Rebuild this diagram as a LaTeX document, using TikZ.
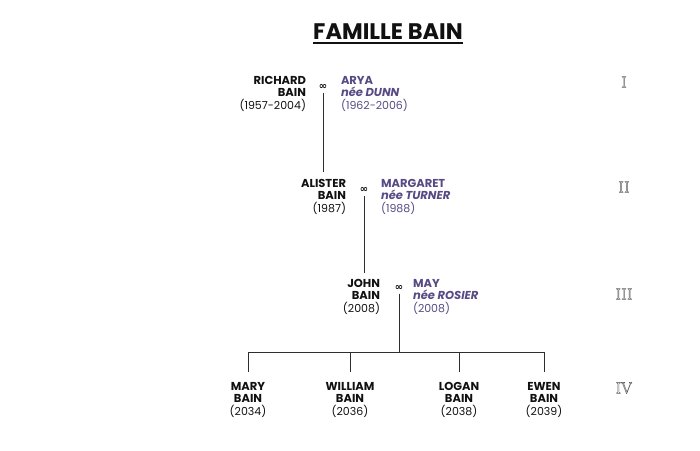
\documentclass[tikz,border=0pt]{standalone}
\usepackage{fontspec}
\setsansfont{Poppins}
\renewcommand{\familydefault}{\sfdefault}
\newfontfamily\ringfont{DejaVu Sans}
\usepackage{tikz}
\usetikzlibrary{positioning}
\definecolor{Ink}{HTML}{111111}
\definecolor{Plum}{HTML}{574A85}
\definecolor{Wire}{HTML}{2E2E2E}
\definecolor{Rule}{HTML}{5A5A5A}
\newcommand{\hollow}[1]{\special{pdf:literal direct 1 Tr 0.45 w}#1\special{pdf:literal direct 0 Tr}}
\newcommand{\nm}[1]{\textbf{\fontsize{11.5}{12.5}\selectfont #1}}

\begin{document}
\begin{tikzpicture}[x=1pt,y=-1pt,every node/.style={inner sep=0pt,outer sep=0pt},
  husband/.style={anchor=north east,align=right,text=Ink,font=\fontsize{11}{12.5}\selectfont},
  wife/.style={anchor=north west,align=left,text=Plum,font=\fontsize{11}{12.5}\selectfont},
  child/.style={anchor=north,align=center,text=Ink,font=\fontsize{11}{12.5}\selectfont},
  ring/.style={text=Ink,font=\ringfont\bfseries\fontsize{10}{10}\selectfont},
  gen/.style={text=Rule,font=\rmfamily\fontsize{16}{16}\selectfont},
  link/.style={draw=Wire,line width=0.8pt}]
  \useasboundingbox (0,0) rectangle (700,450);
  \node[font=\bfseries\fontsize{22.5}{22.5}\selectfont,text=Ink] (title) at (388,32) {FAMILLE BAIN};
  \draw[Ink,line width=1.8pt] ([yshift=-3pt]title.south west) -- ([yshift=-3pt]title.south east);

  \node[husband] (richard) at (306,76) {\nm{RICHARD}\\\nm{BAIN}\\(1957-2004)};
  \node[ring] (ring1) at (323,87) {∞};
  \node[wife] (arya) at (341,76) {\nm{ARYA}\\\nm{\itshape née DUNN}\\(1962-2006)};

  \node[husband] (alister) at (346,179) {\nm{ALISTER}\\\nm{BAIN}\\(1987)};
  \node[ring] (ring2) at (364,190) {∞};
  \node[wife] (margaret) at (381,179) {\nm{MARGARET}\\\nm{\itshape née TURNER}\\(1988)};

  \node[husband] (john) at (380,279) {\nm{JOHN}\\\nm{BAIN}\\(2008)};
  \node[ring] (ring3) at (399,288) {∞};
  \node[wife] (may) at (413,279) {\nm{MAY}\\\nm{\itshape née ROSIER}\\(2008)};

  \node[child] (mary) at (248,382) {\nm{MARY}\\\nm{BAIN}\\(2034)};
  \node[child] (william) at (350,382) {\nm{WILLIAM}\\\nm{BAIN}\\(2036)};
  \node[child] (logan) at (459,382) {\nm{LOGAN}\\\nm{BAIN}\\(2038)};
  \node[child] (ewen) at (544,382) {\nm{EWEN}\\\nm{BAIN}\\(2039)};

  \node[gen] (g1) at (624,82) {\hollow{I}};
  \node[gen] (g2) at (624,187) {\hollow{II}};
  \node[gen] (g3) at (624,294) {\hollow{III}};
  \node[gen] (g4) at (624,388) {\hollow{IV}};

  \coordinate (bus) at (399,352);
  \draw[link] ([yshift=-3pt]ring1.south) -- ([yshift=7pt]ring1.south |- alister.north);
  \draw[link] ([yshift=-3pt]ring2.south) -- ([yshift=6pt]ring2.south |- john.north);
  \draw[link] ([yshift=-3pt]ring3.south) -- (bus);
  \draw[link] (mary.north |- bus) -- (ewen.north |- bus);
  \draw[link] (mary.north |- bus) -- ([yshift=10pt]mary.north);
  \draw[link] (william.north |- bus) -- ([yshift=10pt]william.north);
  \draw[link] (logan.north |- bus) -- ([yshift=10pt]logan.north);
  \draw[link] (ewen.north |- bus) -- ([yshift=10pt]ewen.north);
\end{tikzpicture}
\end{document}
